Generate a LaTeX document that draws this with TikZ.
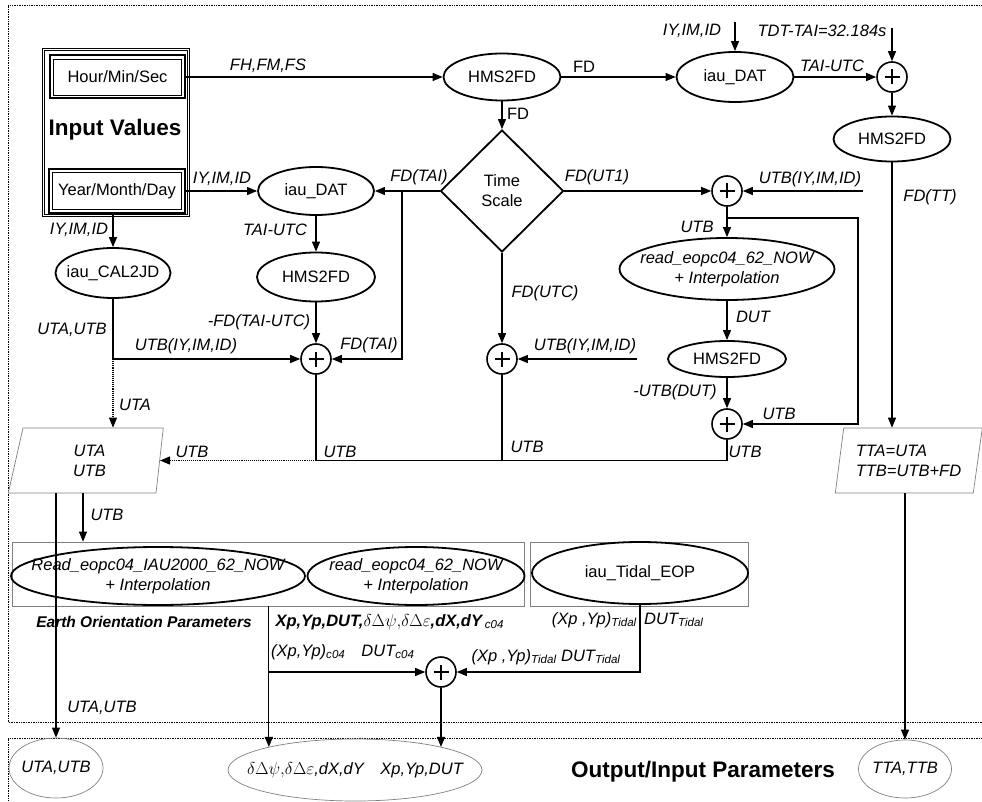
\documentclass[tikz,border=0pt]{standalone}
\usepackage{fontspec}
\setmainfont{Liberation Sans}
\usetikzlibrary{shapes.geometric,arrows.meta}
\newcommand{\flowfont}{\fontsize{16.5}{20}\selectfont}
\newcommand{\zbox}[1]{\makebox[0pt]{#1}}
\tikzset{
  proc/.style={ellipse, draw, line width=1.8pt, inner sep=0pt},
  inframe/.style={rectangle, draw, line width=0.6pt, double, double distance=1.6pt, inner sep=0pt},
  inbox/.style={rectangle, draw, line width=2pt, inner sep=0pt,
    path picture={\draw[line width=0.8pt]
      ([shift={(3.5pt,3.5pt)}]path picture bounding box.south west) rectangle
      ([shift={(-3.5pt,-3.5pt)}]path picture bounding box.north east);}},
  sumnode/.style={circle, draw, line width=1.6pt, minimum size=30pt, inner sep=0pt,
    path picture={\draw[line width=2pt]
      ([xshift=-7.5pt]path picture bounding box.center) -- ([xshift=7.5pt]path picture bounding box.center)
      ([yshift=-7.5pt]path picture bounding box.center) -- ([yshift=7.5pt]path picture bounding box.center);}},
  iobox/.style={trapezium, draw=gray, line width=0.7pt, inner sep=0pt, minimum height=65pt,
    trapezium stretches body, align=left, font=\flowfont\itshape},
  outval/.style={ellipse, draw=gray, line width=0.7pt, inner sep=0pt, font=\flowfont\itshape},
  eopbox/.style={rectangle, draw=gray, line width=0.7pt, minimum height=64pt},
  lbl/.style={font=\flowfont\itshape, inner sep=0pt},
  flow/.style={line width=1.1pt, -{Triangle[length=10pt,width=8pt]}},
  wire/.style={line width=1.1pt},
  dotframe/.style={densely dotted, line width=0.7pt},
  bigbold/.style={font=\fontsize{22.5}{26}\selectfont\bfseries}
}
\begin{document}
\begin{tikzpicture}[x=1pt, y=-1pt, font=\flowfont]
  \useasboundingbox (0,0) rectangle (982,802);
  %Frames
  \draw[dotframe] (990,5) -| (8,722) -- (990,722);
  \draw[dotframe] (990,738) -| (8,810);

  %Input values
  \node[inframe, minimum width=145pt, minimum height=166pt] (inpanel) at (116,132.5) {};
  \node[inbox, minimum width=135pt, minimum height=43pt] (hmsin) at (117.5,77) {Hour/Min/Sec};
  \node[inbox, minimum width=136pt, minimum height=44pt] (ymdin) at (117,191) {Year/Month/Day};
  \node[bigbold] (invals) at (115,130) {Input Values};

  %Top row
  \node[proc, minimum width=117pt, minimum height=47pt] (hmsA) at (502,77) {HMS2FD};
  \node[proc, minimum width=117pt, minimum height=50pt] (datA) at (735,77) {iau\_DAT};
  \node[sumnode] (sumA) at (892,77) {};
  \node[proc, minimum width=117pt, minimum height=45pt] (hmsD) at (892,139) {HMS2FD};
  \node[iobox, trapezium left angle=75, trapezium right angle=106, minimum width=147pt] (ttio) at (908.5,460.5) {TTA=UTA\\TTB=UTB+FD};
  \coordinate (topIY) at (735,22);
  \coordinate (topTDT) at (892,28);

  %Time scale
  \node[diamond, draw, line width=1.8pt, minimum width=123pt, minimum height=122pt, inner sep=0pt, align=center] (tscale) at (502,191) {Time\\Scale};
  \node[proc, minimum width=116pt, minimum height=48pt] (datB) at (316,191) {iau\_DAT};
  \node[proc, minimum width=115pt, minimum height=50pt] (cal) at (113,273) {\zbox{iau\_CAL2JD}};
  \node[proc, minimum width=118pt, minimum height=49pt] (hmsB) at (316,277) {HMS2FD};
  \node[sumnode] (sumB) at (316,359) {};
  \node[sumnode] (sumC) at (502,359) {};
  \node[sumnode] (sumD) at (727,191) {};
  \node[proc, minimum width=215pt, minimum height=62pt, align=center, font=\flowfont\itshape] (readA) at (727,269) {\zbox{read\_eopc04\_62\_NOW}\\\zbox{+ Interpolation}};
  \node[proc, minimum width=118pt, minimum height=36pt] (hmsC) at (727,359) {HMS2FD};
  \node[sumnode] (sumE) at (727,424) {};
  \node[iobox, align=center, trapezium left angle=65, trapezium right angle=103, minimum width=155pt] (utio) at (89.5,460.5) {UTA\\UTB};
  \coordinate (taisplit) at (402,191);
  \coordinate (utbmid) at (637,359);
  \coordinate (utbright) at (863,191);
  \coordinate (utbsplit) at (727,218);
  \coordinate (utbturn) at (858,218);

  %EOP
  \node[eopbox, minimum width=512pt] (eopA) at (268,574) {};
  \node[eopbox, minimum width=218pt] (eopB) at (639,574) {};
  \node[proc, minimum width=294pt, minimum height=58pt, align=center, font=\flowfont\itshape] (readB) at (158,576) {\zbox{Read\_eopc04\_IAU2000\_62\_NOW}\\\zbox{+ Interpolation}};
  \node[proc, minimum width=217pt, minimum height=58pt, align=center, font=\flowfont\itshape] (readC) at (416,576) {\zbox{read\_eopc04\_62\_NOW}\\\zbox{+ Interpolation}};
  \node[proc, minimum width=216pt, minimum height=62pt] (tidal) at (640,573) {\zbox{iau\_Tidal\_EOP}};
  \node[sumnode] (sumF) at (441,672) {};
  \node[font=\fontsize{15.5}{18}\selectfont\bfseries\itshape] (eoplbl) at (144,622) {Earth Orientation Parameters};
  \node[anchor=west, font=\fontsize{16.5}{18}\selectfont\bfseries\itshape] (eopvals) at (272,622) {Xp,Yp,DUT,$\delta\Delta\psi{,}\delta\Delta\varepsilon$,dX,dY\,\textsubscript{\mdseries c04}};
  \coordinate (utbdrop) at ([xshift=-6.5pt]utio.south);

  %Outputs
  \node[outval, minimum width=94pt, minimum height=60pt] (outA) at (56,768) {\zbox{UTA,UTB}};
  \node[outval, minimum width=254pt, minimum height=62pt] (outB) at (355,770) {\zbox{$\delta\Delta\psi{,}\delta\Delta\varepsilon$,dX,dY\quad Xp,Yp,DUT}};
  \node[outval, minimum width=93pt, minimum height=58pt] (outC) at (905,769) {\zbox{TTA,TTB}};
  \node[bigbold] (outlbl) at (703,772) {Output/Input Parameters};

  %Connectors
  \draw[flow] (hmsin.east) -- (hmsA.west);
  \draw[flow] (hmsA.east) -- (datA.west);
  \draw[flow] (topIY) -- (datA.north);
  \draw[flow] (datA.east) -- (sumA.west);
  \draw[flow] (topTDT) -- (sumA.north);
  \draw[flow] (sumA.south) -- (hmsD.north);
  \draw[flow] (hmsD.south) -- (hmsD.south |- ttio.north);
  \draw[flow] (outC.north |- ttio.south) -- (outC.north);
  \draw[flow] (hmsA.south) -- (tscale.north);
  \draw[flow] (tscale.west) -- (datB.east);
  \draw[flow] (taisplit) |- (sumB.east);
  \draw[flow] (ymdin.east) -- (datB.west);
  \draw[flow] (cal.north |- ymdin.south) -- (cal.north);
  \draw[flow] (datB.south) -- (hmsB.north);
  \draw[flow] (hmsB.south) -- (sumB.north);
  \draw[flow] (cal.south) |- (sumB.west);
  \draw[flow, densely dotted] (cal.south |- sumB.west) -- (cal.south |- utio.north);
  \draw[wire] (sumB.south) -- (sumB.south |- utio.east);
  \draw[flow, densely dotted] (sumB.south |- utio.east) -- (utio.east);
  \draw[flow] (tscale.south) -- (sumC.north);
  \draw[flow] (utbmid) -- (sumC.east);
  \draw[wire] (sumC.south) -- (sumC.south |- utio.east);
  \draw[flow] (tscale.east) -- (sumD.west);
  \draw[flow] (utbright) -- (sumD.east);
  \draw[flow] (sumD.south) -- (readA.north);
  \draw[flow] (utbsplit) -- (utbturn) |- (sumE.east);
  \draw[flow] (readA.south) -- (hmsC.north);
  \draw[flow] (hmsC.south) -- (sumE.north);
  \draw[wire] (sumE.south) |- (sumB.south |- utio.east);
  \draw[flow] (outA.north |- utio.south) -- (outA.north);
  \draw[flow] (utbdrop) -- (utbdrop |- eopA.north);
  \draw[flow] (outB.165 |- eopA.south) -- (outB.165);
  \draw[flow] (outB.165 |- sumF.west) -- (sumF.west);
  \draw[flow] (tidal.south) |- (sumF.east);
  \draw[flow] (sumF.south) -- (sumF.south |- outB.15);

  %Labels
  \node[lbl] (lFH) at (268,66) {FH,FM,FS};
  \node[inner sep=0pt] (lFDa) at (584,67) {FD};
  \node[lbl] (lIYa) at (692,31) {IY,IM,ID};
  \node[lbl] (lTAIa) at (832,66) {TAI-UTC};
  \node[lbl] (lTDT) at (822,31) {TDT-TAI=32.184s};
  \node[lbl] (lFDTT) at (930,197) {FD(TT)};
  \node[inner sep=0pt] (lFDb) at (518,114) {FD};
  \node[lbl] (lFDTAIa) at (419,177) {FD(TAI)};
  \node[lbl] (lFDUT1) at (597,177) {FD(UT1)};
  \node[lbl] (lUTBIYa) at (810,179) {UTB(IY,IM,ID)};
  \node[lbl] (lUTBa) at (697,227) {UTB};
  \node[lbl] (lIYb) at (222,179) {IY,IM,ID};
  \node[lbl] (lIYc) at (79,230) {IY,IM,ID};
  \node[lbl] (lTAIb) at (275,230) {TAI-UTC};
  \node[lbl] (lUTAUTBa) at (72,330) {UTA,UTB};
  \node[lbl] (lFDTAIUTC) at (259,322) {-FD(TAI-UTC)};
  \node[lbl] (lUTBIYb) at (186,346) {UTB(IY,IM,ID)};
  \node[lbl] (lFDTAIb) at (369,345) {FD(TAI)};
  \node[lbl] (lFDUTC) at (545,293) {FD(UTC)};
  \node[lbl] (lUTBIYc) at (585,346) {UTB(IY,IM,ID)};
  \node[lbl] (lUTA) at (135,405) {UTA};
  \node[lbl] (lUTBb) at (192,452) {UTB};
  \node[lbl] (lUTBc) at (340,452) {UTB};
  \node[lbl] (lUTBd) at (527,447) {UTB};
  \node[lbl] (lDUT) at (753,317) {DUT};
  \node[lbl] (lUTBDUT) at (675,392) {-UTB(DUT)};
  \node[lbl] (lUTBe) at (779,414) {UTB};
  \node[lbl] (lUTBf) at (745,452) {UTB};
  \node[lbl] (lUTAUTBb) at (102,708) {UTA,UTB};
  \node[lbl] (lUTBg) at (107,515) {UTB};
  \node[lbl, anchor=west] (lXYc) at (271,652) {(Xp,Yp)\textsubscript{c04}};
  \node[lbl] (lDUTc) at (388,652) {DUT\textsubscript{c04}};
  \node[lbl, anchor=east] (lXYt) at (637,620) {(Xp ,Yp)\textsubscript{Tidal}};
  \node[lbl, anchor=west] (lDUTt) at (644,620) {DUT\textsubscript{Tidal}};
  \node[lbl] (lTidal) at (546,657) {(Xp ,Yp)\textsubscript{Tidal} DUT\textsubscript{Tidal}};
\end{tikzpicture}
\end{document}
